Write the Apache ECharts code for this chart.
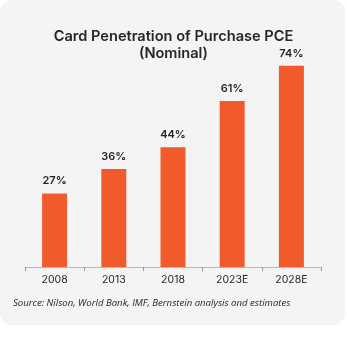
<!DOCTYPE html>
<html>
<head>
<meta charset="utf-8">
<script src="https://cdn.jsdelivr.net/npm/echarts@6/dist/echarts.min.js"></script>
<style>
  html, body { margin: 0; padding: 0; background: #ffffff; }
  #chart { width: 347px; height: 342px; }
</style>
</head>
<body>
<div id="chart"></div>
<script>
// Share of purchase PCE paid by card, nominal
const years = ['2008', '2013', '2018', '2023E', '2028E'];
const penetration = [27, 36, 44, 61, 74];
const titleLines = ['Card Penetration of Purchase PCE', '(Nominal)'];
const sourceNote = 'Source: Nilson, World Bank, IMF, Bernstein analysis and estimates';

const chart = echarts.init(document.getElementById('chart'), null, { renderer: 'canvas' });

chart.setOption({
  animation: false,
  backgroundColor: 'transparent',
  graphic: [
    {
      type: 'rect',
      z: -10,
      silent: true,
      shape: { x: 0, y: 0, width: 345, height: 325, r: 12 },
      style: { fill: '#f4f4f4' }
    },
    {
      type: 'text',
      left: 13,
      top: 298,
      style: {
        text: sourceNote,
        fill: '#1f1f1f',
        font: 'italic 9.6px "Open Sans", sans-serif'
      }
    }
  ],
  title: {
    text: titleLines.join('\n'),
    left: 'center',
    top: 23,
    textStyle: {
      fontFamily: 'Inter, "Open Sans", sans-serif',
      fontWeight: 600,
      fontSize: 14.6,
      lineHeight: 17,
      color: '#262626'
    }
  },
  grid: {
    left: 25,
    right: 26,
    top: 49.4,
    bottom: 75,
    containLabel: false
  },
  xAxis: {
    type: 'category',
    data: years,
    axisLine: { lineStyle: { color: '#b8b8b8', width: 1 } },
    axisTick: { show: true, length: 4, lineStyle: { color: '#9a9a9a' } },
    axisLabel: {
      color: '#262626',
      fontFamily: 'Inter, "Open Sans", sans-serif',
      fontSize: 10.5,
      margin: 7
    }
  },
  yAxis: {
    type: 'value',
    min: 0,
    max: 80,
    show: false,
    splitLine: { show: false }
  },
  series: [
    {
      type: 'bar',
      data: penetration,
      barWidth: 25,
      itemStyle: { color: '#f15b2c' },
      label: {
        show: true,
        position: 'top',
        distance: 7,
        formatter: '{c}%',
        color: '#262626',
        fontFamily: 'Inter, "Open Sans", sans-serif',
        fontWeight: 600,
        fontSize: 11
      }
    }
  ]
});
</script>
</body>
</html>
